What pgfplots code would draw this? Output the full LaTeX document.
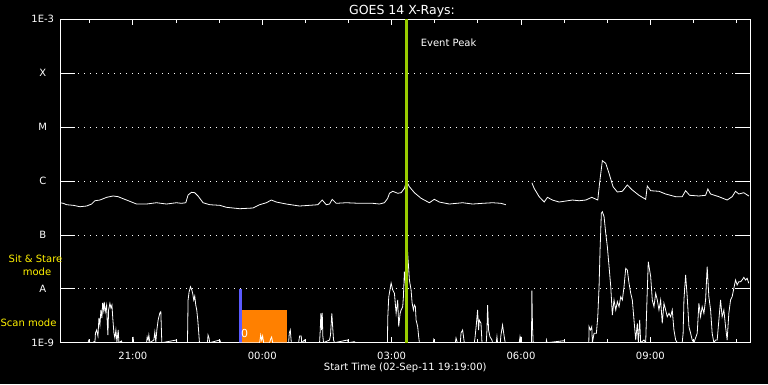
\documentclass[border=0pt]{standalone}
\usepackage{fontspec}
\setmainfont{DejaVu Sans}
\usepackage{pgfplots}
\pgfplotsset{compat=1.18}
\definecolor{peakc}{RGB}{153,204,0}
\definecolor{bluec}{RGB}{90,90,255}
\definecolor{orangec}{RGB}{255,128,0}
\begin{document}
\begin{tikzpicture}[font=\fontsize{10}{12}\selectfont]
\fill[black] (-60.3pt,-41.3pt) rectangle (707.7pt,342.7pt);
\useasboundingbox (-60.3pt,-41.3pt) rectangle (707.7pt,342.7pt);
\begin{axis}[at={(0pt,0pt)}, anchor=south west, scale only axis,
 width=690pt, height=323.4pt,
 xmin=-4.683, xmax=11.317, ymin=-9, ymax=-3,
 axis line style={white, line width=0.8pt},
 xtick={-3,0,3,6,9}, xticklabels={21:00,00:00,03:00,06:00,09:00},
 minor xtick={-4,-2,-1,1,2,4,5,7,8,10,11},
 ytick={-9,-8,-7,-6,-5,-4,-3}, yticklabels={1E-9,A,B,C,M,X,1E-3},
 tick align=inside, xtick pos=both, ytick pos=both,
 xticklabel pos=lower, yticklabel pos=left,
 tick style={white, line width=0.8pt},
 xtick style={/pgfplots/major tick length=6pt, /pgfplots/minor tick length=3.5pt},
 ytick style={/pgfplots/major tick length=15pt},
 ticklabel style={white, font=\fontsize{10}{12}\selectfont},
 xticklabel style={yshift=-5.7pt},
 yticklabel style={text width=28pt, align=center},
 ymajorgrids, grid style={white, dash pattern=on 0.9pt off 5.1pt, line width=0.8pt},
]
% orange box
\addplot[fill=orangec, draw=none] coordinates {(-0.477,-9) (-0.477,-8.393) (0.581,-8.393) (0.581,-9)} --cycle;
% blue marker
\addplot[bluec, line width=3pt] coordinates {(-0.507,-9) (-0.507,-8)};
% short channel
\addplot[white, line width=0.8pt] coordinates {
(-4.690,-9) (-4.042,-9) (-4.019,-8.950) (-3.995,-9) (-3.926,-9) (-3.903,-8.981) (-3.880,-9)
(-3.868,-8.820) (-3.840,-8.764) (-3.810,-8.876) (-3.787,-8.542) (-3.764,-8.672) (-3.741,-8.393)
(-3.718,-8.542) (-3.701,-8.263) (-3.678,-8.393) (-3.664,-8.245) (-3.641,-8.430) (-3.609,-8.301)
(-3.595,-8.616) (-3.579,-8.857) (-3.563,-8.393) (-3.532,-8.269) (-3.509,-8.356) (-3.486,-8.301)
(-3.463,-8.579) (-3.440,-8.820) (-3.417,-8.913) (-3.394,-8.764) (-3.370,-8.987) (-3.340,-8.764)
(-3.324,-9) (-3.262,-8.968) (-3.255,-9) (-3.000,-9) (-2.993,-8.894) (-2.984,-9) (-2.683,-9)
(-2.669,-8.894) (-2.646,-8.950) (-2.630,-8.857) (-2.606,-9) (-2.514,-8.950) (-2.491,-8.801)
(-2.468,-8.987) (-2.444,-8.764) (-2.414,-8.579) (-2.375,-8.449) (-2.352,-8.425) (-2.329,-9)
(-1.988,-8.950) (-1.981,-9) (-1.734,-9) (-1.720,-8.208) (-1.697,-8.059) (-1.664,-7.961)
(-1.634,-8.022) (-1.611,-8.096) (-1.588,-8.208) (-1.565,-8.134) (-1.542,-8.301) (-1.519,-8.393)
(-1.495,-8.579) (-1.472,-8.820) (-1.456,-9) (-1.271,-9) (-1.257,-8.857) (-1.234,-8.913)
(-1.218,-9) (-0.986,-8.950) (-0.963,-9) (-0.060,-9) (-0.037,-8.857) (-0.014,-8.950)
(0.009,-8.876) (0.032,-9) (0.171,-9) (0.194,-8.931) (0.218,-8.894) (0.241,-9) (0.611,-9)
(0.627,-8.820) (0.650,-8.764) (0.674,-9) (0.843,-9) (0.866,-8.876) (0.905,-8.876) (0.912,-9)
(0.981,-8.950) (1.005,-9) (1.329,-9) (1.345,-8.764) (1.359,-8.455) (1.375,-8.764) (1.391,-8.449)
(1.405,-8.876) (1.421,-9) (1.560,-8.950) (1.583,-8.857) (1.613,-8.455) (1.630,-8.672)
(1.653,-8.950) (1.676,-9) (1.977,-8.950) (2.000,-9) (2.139,-8.981) (2.162,-9) (2.903,-9)
(2.910,-8.542) (2.933,-8.152) (2.988,-7.892) (3.025,-8.022) (3.065,-8.083) (3.104,-8.455)
(3.141,-8.208) (3.164,-8.703) (3.197,-8.455) (3.220,-8.393) (3.257,-8.332) (3.273,-8.147)
(3.296,-7.683) (3.319,-7.892) (3.343,-7.466) (3.373,-7.354) (3.412,-7.837) (3.451,-8.022)
(3.475,-8.263) (3.505,-8.393) (3.528,-8.301) (3.551,-8.332) (3.567,-8.579) (3.604,-8.703)
(3.627,-8.889) (3.644,-9) (3.968,-9) (3.975,-8.950) (3.991,-9) (4.477,-9) (4.493,-8.913)
(4.523,-9) (4.593,-9) (4.609,-8.820) (4.646,-8.764) (4.685,-9) (4.917,-9) (4.933,-8.913)
(4.963,-8.672) (4.993,-8.393) (5.016,-8.764) (5.032,-8.579) (5.072,-8.640) (5.095,-9)
(5.194,-9) (5.211,-8.764) (5.225,-8.301) (5.248,-8.764) (5.280,-8.889) (5.326,-8.950)
(5.340,-9) (5.426,-9) (5.442,-8.889) (5.456,-9) (5.519,-9) (5.535,-8.857) (5.572,-8.672)
(5.611,-8.889) (5.634,-9) (5.958,-9) (5.975,-8.900) (5.988,-9) (5.998,-8.889) (6.012,-9)
(6.243,-9) (6.252,-8.035) (6.266,-8.690) (6.282,-9) (6.583,-9) (6.590,-8.950) (6.606,-9)
(7.000,-8.963) (7.016,-9) (7.572,-9) (7.579,-8.703) (7.609,-8.764) (7.641,-8.703) (7.655,-9)
(7.694,-8.826) (7.748,-8.826) (7.780,-8.518) (7.810,-7.961) (7.833,-7.280) (7.863,-6.599)
(7.887,-6.570) (7.926,-6.662) (7.965,-6.970) (8.002,-7.219) (8.042,-7.590) (8.081,-7.961)
(8.118,-8.486) (8.157,-8.208) (8.197,-8.393) (8.234,-8.239) (8.273,-8.332) (8.313,-8.147)
(8.350,-8.208) (8.389,-7.961) (8.428,-7.620) (8.465,-7.651) (8.505,-7.898) (8.544,-8.083)
(8.581,-8.208) (8.620,-8.579) (8.660,-8.950) (8.697,-8.640) (8.720,-9) (8.752,-8.579)
(8.775,-9) (8.852,-8.950) (8.891,-9) (8.921,-8.208) (8.951,-7.497) (9.007,-7.775)
(9.044,-8.208) (9.083,-8.332) (9.123,-8.083) (9.160,-8.208) (9.199,-8.393) (9.238,-8.208)
(9.275,-8.640) (9.315,-8.269) (9.354,-8.393) (9.391,-8.518) (9.431,-8.455) (9.470,-8.518)
(9.507,-8.393) (9.546,-8.764) (9.586,-8.950) (9.623,-9) (9.738,-9) (9.759,-8.826)
(9.778,-8.208) (9.817,-7.744) (9.854,-8.147) (9.894,-8.703) (9.933,-8.826) (9.970,-8.950)
(10.009,-9) (10.086,-8.826) (10.125,-8.269) (10.164,-8.518) (10.201,-8.332) (10.241,-8.455)
(10.280,-8.208) (10.317,-7.590) (10.356,-8.147) (10.396,-8.393) (10.433,-8.826) (10.472,-9)
(10.512,-8.950) (10.549,-8.950) (10.588,-8.579) (10.627,-8.208) (10.664,-8.518) (10.704,-8.393)
(10.743,-8.703) (10.780,-8.950) (10.819,-8.455) (10.859,-8.208) (10.896,-8.147) (10.935,-7.991)
(10.975,-7.837) (11.012,-7.929) (11.051,-7.868) (11.091,-7.868) (11.127,-7.837) (11.167,-7.787)
(11.206,-7.837) (11.243,-7.805) (11.282,-7.898)
};
% long channel, first part
\addplot[white, line width=0.8pt] coordinates {
(-4.690,-6.403) (-4.614,-6.414) (-4.535,-6.440) (-4.382,-6.451) (-4.227,-6.477) (-4.072,-6.464)
(-3.956,-6.427) (-3.880,-6.366) (-3.764,-6.353) (-3.609,-6.303) (-3.456,-6.278) (-3.341,-6.291)
(-3.225,-6.329) (-3.070,-6.377) (-2.915,-6.427) (-2.683,-6.427) (-2.452,-6.403) (-2.220,-6.427)
(-1.989,-6.403) (-1.873,-6.414) (-1.773,-6.403) (-1.720,-6.260) (-1.642,-6.210) (-1.565,-6.217)
(-1.489,-6.278) (-1.373,-6.403) (-1.218,-6.440) (-0.986,-6.451) (-0.831,-6.488) (-0.523,-6.514)
(-0.216,-6.501) (-0.061,-6.440) (0.095,-6.403) (0.210,-6.353) (0.326,-6.390) (0.558,-6.427)
(0.865,-6.464) (1.097,-6.451) (1.289,-6.440) (1.391,-6.353) (1.484,-6.440) (1.560,-6.427)
(1.622,-6.340) (1.715,-6.414) (1.947,-6.403) (2.254,-6.414) (2.562,-6.414) (2.717,-6.427)
(2.833,-6.403) (2.909,-6.321) (2.949,-6.228) (3.025,-6.191) (3.141,-6.228) (3.220,-6.217)
(3.296,-6.136) (3.349,-6.006) (3.412,-6.106) (3.528,-6.217) (3.683,-6.321) (3.875,-6.403)
(3.990,-6.340) (4.106,-6.390) (4.338,-6.427) (4.646,-6.403) (4.877,-6.427) (5.109,-6.414)
(5.340,-6.403) (5.534,-6.414) (5.650,-6.440)
};
% long channel, second part
\addplot[white, line width=0.8pt] coordinates {
(6.252,-6.032) (6.305,-6.136) (6.421,-6.291) (6.537,-6.390) (6.613,-6.303) (6.729,-6.353)
(6.884,-6.390) (7.192,-6.353) (7.347,-6.366) (7.502,-6.353) (7.641,-6.303) (7.780,-6.353)
(7.826,-6.013) (7.886,-5.623) (7.965,-5.672) (8.041,-5.857) (8.134,-6.106) (8.234,-6.204)
(8.349,-6.191) (8.465,-6.074) (8.581,-6.167) (8.736,-6.265) (8.891,-6.340) (8.928,-6.093)
(9.007,-6.180) (9.199,-6.191) (9.354,-6.241) (9.585,-6.291) (9.738,-6.291) (9.817,-6.180)
(9.909,-6.265) (10.125,-6.278) (10.280,-6.265) (10.333,-6.149) (10.396,-6.241) (10.588,-6.291)
(10.780,-6.353) (10.896,-6.291) (10.974,-6.191) (11.051,-6.241) (11.166,-6.217) (11.282,-6.278)
};
% event peak
\addplot[peakc, line width=3pt] coordinates {(3.336,-9) (3.336,-3)};
\node[white, anchor=center, font=\fontsize{11}{13}\selectfont] at (axis cs:-0.406,-8.829) {0};
\end{axis}
\node[white, anchor=base, font=\fontsize{12.5}{15}\selectfont] at (341.7pt,328.7pt) {GOES 14 X-Rays:};
\node[white, anchor=base west] at (357pt,296pt) {Event Peak};
\node[white, anchor=base] at (345pt,-27.3pt) {Start Time (02-Sep-11 19:19:00)};
\node[yellow, anchor=base] at (-24.8pt,80.7pt) {Sit \& Stare};
\node[yellow, anchor=base] at (-23.3pt,67.7pt) {mode};
\node[yellow, anchor=base] at (-31.8pt,16pt) {Scan mode};
\end{tikzpicture}
\end{document}
